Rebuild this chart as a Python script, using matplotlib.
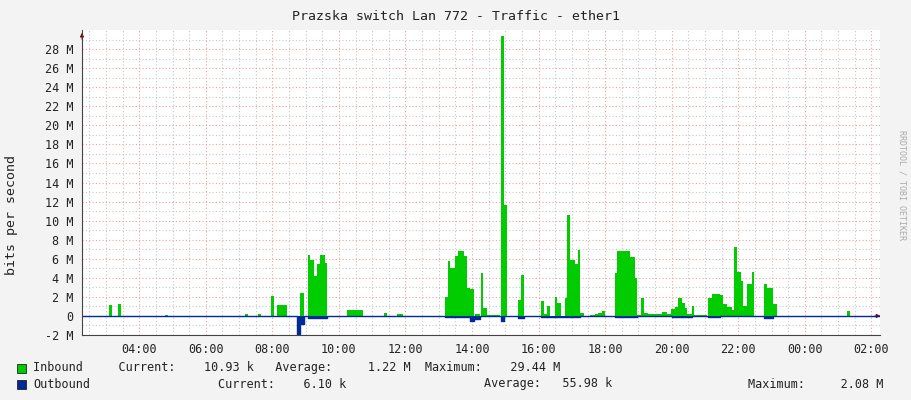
import matplotlib
matplotlib.use("Agg")
import matplotlib.pyplot as plt
import numpy as np

# inbound: step start hours and values (M bit/s); each step lasts until next start
in_t = [2.28, 3.10, 3.19, 3.37, 3.46, 4.78, 4.87, 7.18, 7.27, 7.57, 7.66, 7.96, 8.05, 8.14, 8.44,
        8.83, 8.95, 9.07, 9.13, 9.25, 9.34, 9.44, 9.58, 9.65, 10.25, 10.73, 11.36, 11.45, 11.75, 11.93,
        13.19, 13.28, 13.34, 13.49, 13.58, 13.76, 13.85, 13.94, 14.06, 14.09, 14.24, 14.27, 14.33, 14.45,
        14.84, 14.87, 14.96, 15.05, 15.38, 15.47, 15.56,
        16.07, 16.16, 16.25, 16.34, 16.49, 16.55, 16.67, 16.79, 16.85, 16.94, 17.09, 17.18, 17.24, 17.36,
        17.54, 17.70, 17.80, 17.90, 17.99, 18.29, 18.35, 18.74, 18.89, 18.95, 19.07, 19.16, 19.28,
        19.70, 19.86, 19.98, 20.10, 20.19, 20.31, 20.40, 20.46, 20.61, 20.67, 21.06, 21.09, 21.21,
        21.45, 21.54, 21.66, 21.81, 21.87, 21.96, 22.08, 22.14, 22.26, 22.41, 22.47,
        22.77, 22.86, 23.04, 23.16, 25.26, 25.35, 26.26]
in_v = [0, 1.2, 0, 1.3, 0, 0.1, 0, 0.2, 0, 0.2, 0, 2.1, 0, 1.1, 0,
        2.4, 0, 6.4, 5.9, 4.2, 5.5, 6.4, 5.6, 0, 0.6, 0, 0.35, 0, 0.2, 0,
        2.0, 5.8, 5.0, 6.3, 6.8, 6.3, 2.9, 2.8, 0, 0.2, 0, 4.5, 0.8, 0.1,
        0, 29.4, 11.6, 0, 1.7, 4.3, 0,
        1.6, 0.2, 1.0, 0, 2.0, 1.4, 0, 1.9, 10.6, 5.9, 5.5, 6.9, 0.3, 0,
        0.1, 0.2, 0.3, 0.5, 0, 4.5, 6.8, 6.2, 4.0, 0.1, 1.9, 0.3, 0.2,
        0.4, 0.2, 0.7, 0.9, 1.9, 1.4, 0.8, 0.2, 1.0, 0.1, 0, 1.9, 2.3,
        2.2, 1.3, 0.9, 0.6, 7.2, 4.6, 3.7, 1.0, 3.4, 4.6, 0,
        3.3, 2.9, 1.3, 0, 0.5, 0, 0]

# outbound (plotted negative)
out_t = [2.28, 8.75, 8.83, 8.95, 9.07, 9.65, 13.19, 13.94, 14.06, 14.09, 14.24, 14.87, 14.96,
         15.38, 15.56, 16.07, 17.24, 18.29, 18.95, 20.0, 20.6, 21.09, 21.45, 22.77, 23.04, 26.26]
out_v = [0, 2.0, 0.8, 0, 0.2, 0, 0.15, 0.5, 0, 0.3, 0, 0.5, 0,
         0.2, 0, 0.15, 0, 0.15, 0, 0.15, 0, 0.15, 0, 0.25, 0, 0]

xticks = [4, 6, 8, 10, 12, 14, 16, 18, 20, 22, 24, 26]
xlabels = ["04:00", "06:00", "08:00", "10:00", "12:00", "14:00", "16:00", "18:00",
           "20:00", "22:00", "00:00", "02:00"]
yticks = list(range(-2, 30, 2))

mono = "DejaVu Sans Mono"
fig = plt.figure(figsize=(9.11, 4.0), dpi=100, facecolor="#f3f3f3")
ax = fig.add_axes([82/911, 65/400, 798/911, 305/400])
ax.set_facecolor("white")

ax.fill_between(in_t, in_v, 0, step="post", color="#00cc00", linewidth=0, zorder=3)
neg = [-v for v in out_v]
ax.fill_between(out_t, neg, 0, step="post", color="#002a97", linewidth=0, zorder=4)
ax.step(out_t, neg, where="post", color="#002a97", linewidth=1.0, zorder=5)

ax.set_xlim(2.28, 26.26)
ax.set_ylim(-2, 30)
ax.set_xticks(xticks)
ax.set_xticklabels(xlabels, family=mono, fontsize=8.5, color="#222")
ax.set_xticks(np.arange(2.5, 26.3, 0.5), minor=True)
ax.set_yticks(yticks)
ax.set_yticklabels([("%d M" % v) if v != 0 else "0" for v in yticks], family=mono, fontsize=8.5, color="#222")
ax.set_yticks(range(-2, 30), minor=True)
ax.grid(which="minor", color="#c8c8c8", linestyle=(0, (1, 2)), linewidth=0.8, zorder=1)
ax.grid(which="major", color="#f0a0a0", linestyle=(0, (1, 2)), linewidth=0.8, zorder=2)
ax.tick_params(which="both", length=0, pad=6)
for s in ["top", "right", "bottom"]:
    ax.spines[s].set_visible(False)
ax.spines["left"].set_color("#444")
ax.spines["left"].set_linewidth(0.8)
ax.spines["left"].set_zorder(6)
ax.axhline(-2, color="#444", lw=0.8, zorder=6, clip_on=False)
ax.annotate("", xy=(0, 1.0), xytext=(0, 0.96), xycoords="axes fraction",
            arrowprops=dict(arrowstyle="-|>", color="#800000", lw=0.6, mutation_scale=6))
ax.annotate("", xy=(1.004, 0.0625), xytext=(0.99, 0.0625), xycoords="axes fraction",
            arrowprops=dict(arrowstyle="-|>", color="#800000", lw=0.6, mutation_scale=6))

fig.text(0.5, 383/400, "Prazska switch Lan 772 - Traffic - ether1", ha="center", va="center",
         family=mono, fontsize=9.5, color="#222")
fig.text(12/911, 185/400, "bits per second", rotation=90, ha="center", va="center",
         family=mono, fontsize=9.5, color="#222")
fig.text(902/911, 215/400, "RRDTOOL / TOBI OETIKER", rotation=270, ha="center", va="center",
         family=mono, fontsize=6, color="#aaaaaa")

def legend_box(y, color):
    fig.patches.append(plt.Rectangle((17/911, (400 - y - 5)/400), 9/911, 9/400,
                                     transform=fig.transFigure, facecolor=color,
                                     edgecolor="#222", linewidth=0.6))

legend_box(368, "#00cc00")
legend_box(384, "#002a97")
fs = 8.5
fig.text(33/911, 1 - 368/400, "Inbound     Current:    10.93 k   Average:     1.22 M  Maximum:    29.44 M",
         family=mono, fontsize=fs, va="center", color="#222")
fig.text(33/911, 1 - 384/400, "Outbound", family=mono, fontsize=fs, va="center", color="#222")
fig.text(218/911, 1 - 384/400, "Current:    6.10 k", family=mono, fontsize=fs, va="center", color="#222")
fig.text(484/911, 1 - 384/400, "Average:   55.98 k", family=mono, fontsize=fs, va="center", color="#222")
fig.text(748/911, 1 - 384/400, "Maximum:     2.08 M", family=mono, fontsize=fs, va="center", color="#222")

fig.savefig("out.png", dpi=100, facecolor=fig.get_facecolor())
